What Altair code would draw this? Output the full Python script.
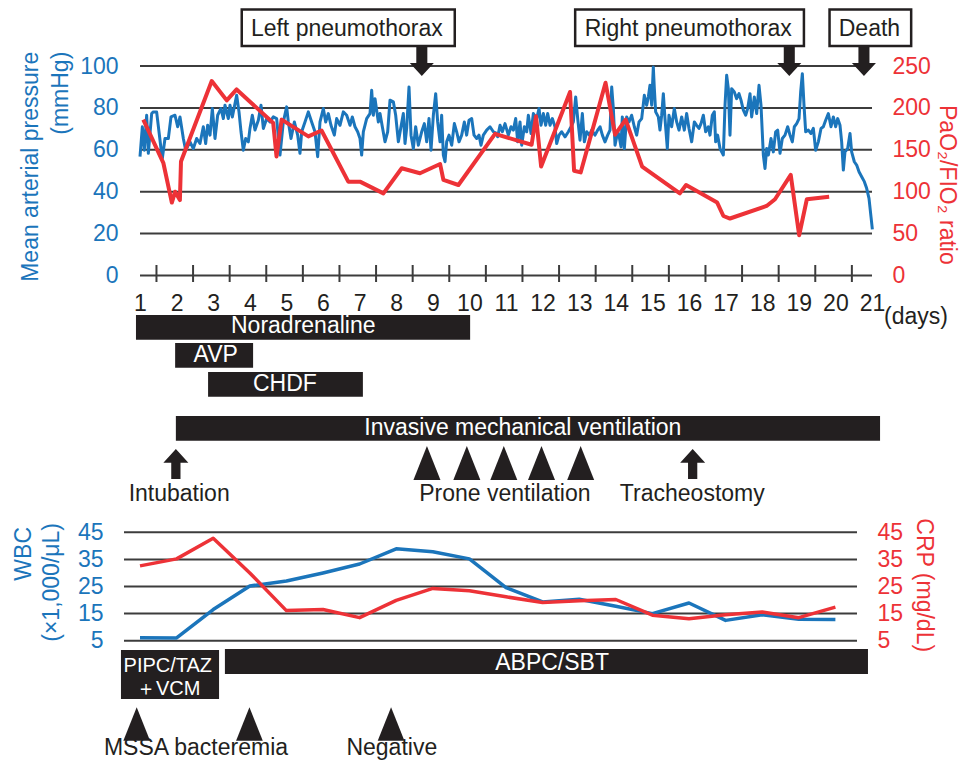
import altair as alt
import pandas as pd

# ---------------- data ----------------
DAYS = list(range(1, 22))

MAP_DAY = [
    1.000, 1.064, 1.118, 1.182, 1.228, 1.319, 1.364, 1.455, 1.574, 1.610, 1.683, 1.774, 1.847, 1.956,
    2.029, 2.093, 2.184, 2.248, 2.366, 2.457, 2.548, 2.639, 2.730, 2.794, 2.849, 2.913, 2.976,
    3.049, 3.122, 3.213, 3.277, 3.322, 3.413, 3.459, 3.523, 3.641, 3.705, 3.760, 3.823, 3.887, 3.960,
    4.005, 4.069, 4.142, 4.233, 4.306, 4.370, 4.461, 4.552, 4.643, 4.734, 4.825, 4.916,
    5.007, 5.053, 5.126, 5.217, 5.308, 5.371, 5.417, 5.508, 5.599, 5.690, 5.781, 5.854, 5.918,
    6.009, 6.073, 6.146, 6.218, 6.310, 6.373, 6.464, 6.555, 6.647, 6.738, 6.801, 6.874, 6.947,
    7.011, 7.056, 7.102, 7.193, 7.284, 7.330, 7.375, 7.421, 7.512, 7.558, 7.621, 7.694, 7.767, 7.831, 7.922, 7.986,
    8.059, 8.131, 8.195, 8.241, 8.286, 8.350, 8.405, 8.468, 8.532, 8.605, 8.696, 8.769, 8.833, 8.896, 8.951,
    9.015, 9.079, 9.133, 9.197, 9.242, 9.288, 9.334, 9.379, 9.443, 9.516, 9.589, 9.652, 9.716, 9.789, 9.862, 9.925, 9.989,
    10.062, 10.126, 10.199, 10.262, 10.317, 10.381, 10.472, 10.563, 10.654, 10.745, 10.773, 10.837, 10.900, 10.973,
    11.064, 11.137, 11.201, 11.265, 11.319, 11.383, 11.429, 11.501, 11.565, 11.611, 11.684, 11.747, 11.838, 11.902, 11.957,
    12.021, 12.084, 12.139, 12.203, 12.266, 12.339, 12.385, 12.449, 12.521, 12.613, 12.704, 12.777, 12.840, 12.904, 12.959,
    13.022, 13.086, 13.141, 13.205, 13.277, 13.341, 13.432, 13.505, 13.569, 13.633, 13.705, 13.778, 13.842, 13.888, 13.933, 13.979,
    14.052, 14.087, 14.142, 14.178, 14.233, 14.297, 14.361, 14.433, 14.506, 14.570, 14.634, 14.707, 14.779, 14.843, 14.889, 14.934, 14.980,
    15.025, 15.053, 15.089, 15.162, 15.207, 15.253, 15.299, 15.344, 15.408, 15.453, 15.526, 15.599, 15.663, 15.727, 15.800, 15.872, 15.936,
    16.000, 16.073, 16.146, 16.209, 16.273, 16.328, 16.392, 16.455, 16.528, 16.574, 16.637, 16.692, 16.728, 16.783, 16.847, 16.892, 16.938, 16.984,
    17.029, 17.075, 17.120, 17.166, 17.238, 17.302, 17.366, 17.421, 17.485, 17.548, 17.603, 17.667, 17.712, 17.785, 17.849, 17.913, 17.967,
    18.031, 18.077, 18.122, 18.168, 18.241, 18.304, 18.368, 18.423, 18.487, 18.550, 18.623, 18.696, 18.760, 18.823, 18.878, 18.942,
    19.006, 19.051, 19.097, 19.142, 19.188, 19.261, 19.333, 19.397, 19.461, 19.534, 19.607, 19.670, 19.734, 19.807, 19.880, 19.944,
    20.007, 20.062, 20.126, 20.171, 20.217, 20.262, 20.335, 20.399, 20.444, 20.517, 20.581, 20.645, 20.718, 20.791, 20.854, 20.918, 20.973, 21.010,
]
MAP_VAL = [
    56.7, 71.0, 59.8, 76.5, 58.3, 77.3, 78.1, 78.0, 60.6, 55.9, 65.4, 65.4, 75.7, 76.5,
    71.0, 75.7, 65.4, 59.8, 63.8, 60.6, 65.4, 63.0, 71.0, 63.0, 71.7, 67.0, 79.7,
    65.4, 76.5, 79.7, 74.9, 81.3, 74.9, 81.3, 75.7, 86.0, 78.1, 68.6, 59.8, 65.4, 63.8,
    70.2, 76.5, 69.4, 74.1, 81.3, 70.2, 74.9, 73.3, 75.7, 74.9, 57.5, 73.3,
    80.5, 73.3, 65.4, 73.3, 67.0, 58.3, 68.6, 73.3, 78.1, 73.3, 68.6, 56.7, 73.3,
    79.7, 73.3, 77.3, 71.7, 67.0, 74.9, 71.7, 78.1, 76.5, 71.7, 75.7, 71.0, 68.6,
    65.4, 57.5, 68.6, 74.9, 77.3, 88.4, 76.5, 84.4, 73.3, 77.3, 71.0, 63.8, 68.6, 83.7, 82.9, 76.5,
    63.8, 71.0, 77.3, 63.0, 70.2, 90.0, 67.0, 60.6, 71.0, 62.2, 68.6, 72.5, 63.8, 74.9, 59.8,
    76.5, 86.8, 73.3, 63.8, 76.5, 57.5, 54.3, 63.8, 67.0, 62.2, 72.5, 68.6, 63.8, 67.0, 73.3, 67.0, 74.1,
    74.9, 67.0, 65.4, 67.0, 62.2, 67.0, 69.4, 71.0, 68.6, 67.8, 66.2, 71.7, 68.6, 72.5,
    67.0, 71.0, 69.4, 74.9, 63.8, 73.3, 62.2, 71.0, 68.6, 76.5, 67.8, 77.3, 74.9, 79.7, 71.7,
    77.3, 71.7, 77.3, 71.7, 74.9, 71.0, 63.0, 67.0, 68.6, 66.2, 68.6, 71.0, 73.3, 85.2, 74.9,
    64.6, 77.3, 63.8, 68.6, 67.0, 69.4, 67.0, 69.4, 71.0, 67.0, 63.8, 67.0, 69.4, 90.0, 79.7, 62.2,
    68.6, 67.0, 61.4, 75.7, 60.6, 75.7, 73.3, 76.5, 71.0, 67.0, 73.3, 74.9, 86.0, 81.3, 85.2, 90.8, 81.3,
    99.5, 89.2, 78.1, 75.7, 69.4, 76.5, 86.8, 74.9, 60.6, 76.5, 71.0, 79.7, 73.3, 69.4, 75.7, 69.4, 77.3,
    70.2, 63.8, 73.3, 71.7, 70.2, 72.5, 76.5, 68.6, 71.0, 67.0, 76.5, 78.1, 63.8, 67.0, 60.6, 59.0, 57.5, 81.3,
    95.6, 89.2, 67.0, 89.2, 87.6, 84.4, 86.8, 83.7, 78.9, 76.5, 79.7, 86.8, 75.7, 85.2, 77.3, 90.8, 81.3,
    57.5, 51.1, 60.6, 57.5, 65.4, 59.0, 68.6, 69.4, 58.3, 65.4, 67.0, 71.0, 67.0, 63.8, 71.0, 72.5,
    74.9, 87.6, 96.3, 81.3, 68.6, 69.4, 67.8, 70.2, 59.8, 63.8, 70.2, 71.0, 74.1, 77.3, 71.0, 75.7,
    71.0, 74.9, 71.7, 63.8, 50.3, 59.0, 60.6, 67.8, 59.0, 54.3, 52.7, 49.5, 47.1, 44.8, 41.6, 36.8, 28.0, 22.0,
]

PF_DAY = [1.09, 1.64, 1.87, 1.96, 2.09, 2.12, 2.96, 3.37, 3.64, 4.64, 4.73, 4.87, 5.60, 5.96,
          6.69, 7.01, 7.65, 8.15, 8.65, 9.20, 9.29, 9.70, 10.70, 11.70, 11.82, 11.96, 12.75,
          12.86, 13.04, 13.72, 13.98, 14.27, 14.72, 15.75, 15.92, 16.77, 16.94, 17.12, 18.12,
          18.35, 18.78, 19.01, 19.22, 19.83]
PF_VAL = [186, 134, 87, 100, 90, 136, 232, 209, 222, 182, 142, 186, 166, 173,
          112, 112, 98, 128, 122, 133, 114, 108, 169, 156, 190, 130, 219,
          125, 123, 230, 168, 186, 130, 98, 108, 87, 71, 68, 83,
          91, 120, 48, 91, 94]

LAB_DAY = list(range(1, 21))
WBC = [6.1, 6.0, 16.5, 25.2, 27.0, 30.0, 33.3, 38.9, 37.8, 35.2,
       24.6, 19.3, 20.3, 17.7, 15.0, 18.9, 12.5, 14.6, 12.9, 12.8]
CRP = [32.6, 35.2, 42.8, 30.0, 16.1, 16.5, 13.5, 19.9, 24.3, 23.4,
       21.2, 19.1, 19.7, 20.2, 14.4, 13.1, 14.6, 15.6, 13.5, 17.4]

MAP_TICKS = [0, 20, 40, 60, 80, 100]
PF_TICKS = [0, 50, 100, 150, 200, 250]
LAB_TICKS = [5, 15, 25, 35, 45]

TREAT_NAMES = ["Noradrenaline", "AVP", "CHDF", "Invasive mechanical ventilation"]
TREAT_START = [0.89, 1.96, 2.86, 1.98]
TREAT_END = [10.02, 4.09, 7.09, 21.22]

ABX_NAMES = ["PIPC/TAZ", "＋VCM", "ABPC/SBT"]
ABX_START = [0.48, 3.32]
ABX_END = [3.16, 20.89]

EVENT_NAMES = ["Left pneumothorax", "Right pneumothorax", "Death"]
EVENT_DAY = [8.70, 18.74, 20.78]

PROC_NAMES = ["Intubation", "Tracheostomy"]
PROC_DAY = [1.98, 16.10]
PRONE_NAME = "Prone ventilation"
PRONE_DAY = [8.84, 9.93, 10.94, 11.97, 13.04]
CULTURE_NAMES = ["MSSA bacteremia", "Negative"]
CULTURE_DAY = [0.91, 3.99, 7.86]

# ---------------- layout / style ----------------
W, H = 954, 752
BLUE = "#1B75BB"
RED = "#ED3237"
INK = "#231F20"
GRID = "#3C3C3C"
FONT = "Liberation Sans"
FS = 23

MAP_RANGE = [267.5, 58]
LAB_RANGE = [632.7, 524.3]
TOP_GRID_SPAN = (1, 21)
BOT_GRID_SPAN = (0.563, 20.59)
TICK_DAYS = [d + 0.45 for d in range(1, 21)]

TREAT_ROWS = [(307, 331.7), (335, 359.7), (364, 388.7), (408, 432.7)]
TREAT_TEXT = [(5.46, 325.3), (3.07, 354.3), (4.96, 383), (11.46, 427)]
ABX_ROWS = [(642, 691), (641, 666)]
ABX_TEXT = [(1.76, 663.7, 20), (1.77, 687, 20), (12.26, 662, FS)]
BOX_SPANS = [(3.78, 9.60), (12.89, 19.14), (19.84, 22.07)]
BOX_TEXT_DAY = [6.65, 15.98, 20.93]
PROC_TEXT_DAY = [2.07, 16.09]
PRONE_TEXT_DAY = 10.97
CULTURE_TEXT_DAY = [2.53, 7.88]

DOWN_ARROW = "M-0.46,-1.21L0.46,-1.21L0.46,0.12L1,0.12L0,1.21L-1,0.12L-0.46,0.12Z"
UP_ARROW = "M0,-1.2L1,-0.1L0.37,-0.1L0.37,1.2L-0.37,1.2L-0.37,-0.1L-1,-0.1Z"
TRIANGLE = "M0,-1.26L1,1.26L-1,1.26Z"

xscale = alt.Scale(domain=[1, 21], range=[132, 864], nice=False, zero=False)
xaxis = alt.Axis(values=DAYS, format="d", orient="bottom", offset=268 - H, title=None,
                 domain=False, ticks=False, tickSize=0, grid=False, labelPadding=34,
                 labelBaseline="alphabetic", labelFontSize=FS, labelColor=INK, labelFont=FONT,
                 labelFlush=False, labelOverlap=False, labelBound=False)


def X(f):
    return alt.X(f, type="quantitative", scale=xscale, axis=xaxis)


def ysc(dom, rng):
    return alt.Scale(domain=dom, range=rng, nice=False, zero=False)


def yaxis(orient, values, offset, color):
    return alt.Axis(orient=orient, values=values, offset=offset, title=None, domain=False,
                    ticks=False, tickSize=0, grid=False, labelPadding=0, labelFontSize=FS,
                    labelColor=color, labelFont=FONT, labelFlush=False, labelOverlap=False)


layers = []

# top grid + MAP axis
layers.append(alt.Chart(pd.DataFrame({"v": MAP_TICKS, "a": TOP_GRID_SPAN[0], "b": TOP_GRID_SPAN[1]}))
              .mark_rule(color=GRID, strokeWidth=2)
              .encode(x=X("a"), x2="b",
                      y=alt.Y("v:Q", scale=ysc([0, 100], MAP_RANGE),
                              axis=yaxis("left", MAP_TICKS, -110, BLUE))))
# x ticks
layers.append(alt.Chart(pd.DataFrame({"d": TICK_DAYS})).mark_rule(color=GRID, strokeWidth=2)
              .encode(x=X("d"), y=alt.value(257), y2=alt.value(274)))
# MAP line
layers.append(alt.Chart(pd.DataFrame({"day": MAP_DAY, "v": MAP_VAL}))
              .mark_line(color=BLUE, strokeWidth=3, strokeJoin="round")
              .encode(x=X("day"), y=alt.Y("v:Q", scale=ysc([0, 100], MAP_RANGE), axis=None)))
# PaO2/FIO2 line
layers.append(alt.Chart(pd.DataFrame({"day": PF_DAY, "v": PF_VAL}))
              .mark_line(color=RED, strokeWidth=4, strokeJoin="round")
              .encode(x=X("day"), y=alt.Y("v:Q", scale=ysc([0, 250], MAP_RANGE),
                                          axis=yaxis("right", PF_TICKS, -70, RED))))
# bottom grid + WBC axis
layers.append(alt.Chart(pd.DataFrame({"v": LAB_TICKS, "a": BOT_GRID_SPAN[0], "b": BOT_GRID_SPAN[1]}))
              .mark_rule(color=GRID, strokeWidth=2)
              .encode(x=X("a"), x2="b",
                      y=alt.Y("v:Q", scale=ysc([5, 45], LAB_RANGE),
                              axis=yaxis("left", LAB_TICKS, -95, BLUE))))
layers.append(alt.Chart(pd.DataFrame({"day": LAB_DAY, "v": WBC}))
              .mark_line(color=BLUE, strokeWidth=3.5, strokeJoin="round")
              .encode(x=X("day"), y=alt.Y("v:Q", scale=ysc([5, 45], LAB_RANGE), axis=None)))
layers.append(alt.Chart(pd.DataFrame({"day": LAB_DAY, "v": CRP}))
              .mark_line(color=RED, strokeWidth=3.5, strokeJoin="round")
              .encode(x=X("day"), y=alt.Y("v:Q", scale=ysc([5, 45], LAB_RANGE),
                                          axis=yaxis("right", LAB_TICKS, -85, RED))))


def bar(start, end, rows):
    return (alt.Chart(pd.DataFrame({"s": [start], "e": [end]})).mark_rect(color=INK)
            .encode(x=X("s"), x2="e", y=alt.value(rows[0]), y2=alt.value(rows[1])))


def label(text, day, y, size=FS, color=INK):
    return (alt.Chart(pd.DataFrame({"d": [day], "t": [text]}))
            .mark_text(font=FONT, fontSize=size, color=color, align="center", baseline="alphabetic")
            .encode(x=X("d"), y=alt.value(y), text="t:N"))


def symbols(days, shape, size, y):
    return (alt.Chart(pd.DataFrame({"d": days}))
            .mark_point(shape=shape, filled=True, color=INK, size=size, opacity=1, strokeWidth=0)
            .encode(x=X("d"), y=alt.value(y)))


for i, name in enumerate(TREAT_NAMES):
    layers.append(bar(TREAT_START[i], TREAT_END[i], TREAT_ROWS[i]))
    layers.append(label(name, TREAT_TEXT[i][0], TREAT_TEXT[i][1], color="white"))

for i in range(2):
    layers.append(bar(ABX_START[i], ABX_END[i], ABX_ROWS[i]))
for i, name in enumerate(ABX_NAMES):
    layers.append(label(name, ABX_TEXT[i][0], ABX_TEXT[i][1], size=ABX_TEXT[i][2], color="white"))

# event boxes
for i, name in enumerate(EVENT_NAMES):
    layers.append(alt.Chart(pd.DataFrame({"s": [BOX_SPANS[i][0]], "e": [BOX_SPANS[i][1]]}))
                  .mark_rect(fill="white", stroke=INK, strokeWidth=2.5)
                  .encode(x=X("s"), x2="e", y=alt.value(1.6), y2=alt.value(38)))
    layers.append(label(name, BOX_TEXT_DAY[i], 27.7))
layers.append(symbols(EVENT_DAY, DOWN_ARROW, 576, 53.5))

layers.append(symbols(PROC_DAY, UP_ARROW, 625, 456))
for i, name in enumerate(PROC_NAMES):
    layers.append(label(name, PROC_TEXT_DAY[i], 492.7))
layers.append(symbols(PRONE_DAY, TRIANGLE, 729, 454.9))
layers.append(label(PRONE_NAME, PRONE_TEXT_DAY, 492.7))
layers.append(symbols(CULTURE_DAY, TRIANGLE, 713, 716))
for i, name in enumerate(CULTURE_NAMES):
    layers.append(label(name, CULTURE_TEXT_DAY[i], 747))
layers.append(label("(days)", 22.2, 315.5))


def vtitle(text, x, y, angle, align, color):
    return (alt.Chart(pd.DataFrame({"t": [text]}))
            .mark_text(font=FONT, fontSize=FS, color=color, angle=angle, align=align, baseline="middle")
            .encode(x=alt.value(x), y=alt.value(y), text="t:N"))


layers.append(vtitle("Mean arterial pressure", 23.4, 43.7, 270, "right", BLUE))
layers.append(vtitle("(mmHg)", 53.4, 43.7, 270, "right", BLUE))
layers.append(vtitle("PaO₂/FIO₂ ratio", 939, 97, 90, "left", RED))
layers.append(vtitle("WBC", 15.8, 519, 270, "right", BLUE))
layers.append(vtitle("(×1,000/μL)", 43.7, 515, 270, "right", BLUE))
layers.append(vtitle("CRP (mg/dL)", 915.7, 510.3, 90, "left", RED))

chart = (alt.layer(*layers)
         .resolve_scale(y="independent")
         .properties(width=W, height=H, autosize=alt.AutoSizeParams(type="none"), padding=0,
                     background="white")
         .configure(font=FONT)
         .configure_view(strokeWidth=0))

chart.save("out.html", embed_options={"renderer": "svg", "actions": False})
